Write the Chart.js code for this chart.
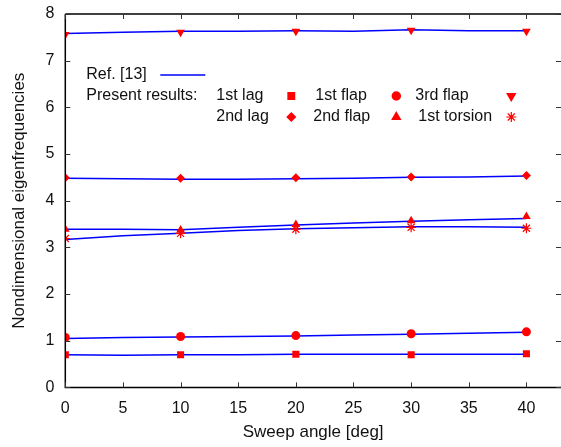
<!DOCTYPE html>
<html lang="en">
<head>
    <meta charset="UTF-8">
    <title>Eigenfrequencies vs sweep angle</title>
    <script src="https://cdn.jsdelivr.net/npm/chart.js"></script>
    <style>
        html, body { margin: 0; padding: 0; background: #fff; }
        #wrap { width: 561px; height: 447px; }
    </style>
</head>
<body>
    <div id="wrap"><canvas id="freqChart" width="561" height="447"></canvas></div>

    <script>
        // sweep angles of present results
        const sweep = [0, 10, 20, 30, 40];
        const lag1 = [0.70, 0.70, 0.71, 0.70, 0.72];
        const flap1 = [1.07, 1.09, 1.11, 1.15, 1.19];
        const flap2 = [3.39, 3.37, 3.49, 3.57, 3.66];
        const torsion1 = [3.19, 3.30, 3.39, 3.43, 3.41];
        const lag2 = [4.49, 4.48, 4.49, 4.51, 4.54];
        const flap3 = [7.56, 7.61, 7.63, 7.65, 7.63];

        // Ref. [13] curves
        const refSweep = [0, 5, 10, 15, 20, 25, 30, 35, 40];
        const refLag1 = [0.70, 0.69, 0.70, 0.70, 0.71, 0.71, 0.71, 0.71, 0.71];
        const refFlap1 = [1.05, 1.07, 1.08, 1.09, 1.10, 1.12, 1.14, 1.16, 1.18];
        const refFlap2 = [3.39, 3.39, 3.38, 3.43, 3.48, 3.52, 3.56, 3.59, 3.62];
        const refTorsion1 = [3.17, 3.25, 3.30, 3.36, 3.40, 3.42, 3.44, 3.44, 3.43];
        const refLag2 = [4.48, 4.47, 4.46, 4.46, 4.47, 4.48, 4.50, 4.51, 4.53];
        const refFlap3 = [7.58, 7.61, 7.63, 7.63, 7.64, 7.63, 7.66, 7.64, 7.64];

        const xTicks = [0, 5, 10, 15, 20, 25, 30, 35, 40];
        const yTicks = [0, 1, 2, 3, 4, 5, 6, 7, 8];

        const RED = '#ff0000';
        const BLUE = '#0000ff';
        const FONT = "'Liberation Sans', Arial, sans-serif";
        const FSIZE = 16;

        const pts = (xs, ys) => xs.map((x, i) => ({ x: x, y: ys[i] }));

        function refSet(ys) {
            return {
                label: 'Ref. [13]',
                data: pts(refSweep, ys),
                showLine: true,
                borderColor: BLUE,
                borderWidth: 1.5,
                pointRadius: 0,
                tension: 0,
                order: 2
            };
        }

        function markSet(label, ys, style, radius, rotation) {
            return {
                label: label,
                data: pts(sweep, ys),
                showLine: false,
                pointStyle: style,
                pointRadius: radius,
                pointRotation: rotation || 0,
                pointBackgroundColor: RED,
                pointBorderColor: RED,
                pointBorderWidth: style === 'star' ? 1.2 : 0,
                order: 1
            };
        }

        const markers = [
            { label: '1st lag', style: 'rect', r: 4.5, rot: 0 },
            { label: '1st flap', style: 'circle', r: 4, rot: 0 },
            { label: '3rd flap', style: 'triangle', r: 4.5, rot: 180 },
            { label: '2nd lag', style: 'rectRot', r: 4, rot: 0 },
            { label: '2nd flap', style: 'triangle', r: 4.5, rot: 0 },
            { label: '1st torsion', style: 'star', r: 5, rot: 0 }
        ];

        // frame with inward ticks on all sides, gnuplot style
        const framePlugin = {
            id: 'frame',
            afterDatasetsDraw(chart) {
                const { ctx, chartArea: a, scales } = chart;
                ctx.save();
                ctx.strokeStyle = '#000';
                ctx.lineWidth = 1.5;
                ctx.beginPath();
                ctx.moveTo(a.left, a.top);
                ctx.lineTo(a.right, a.top);
                ctx.moveTo(a.left, a.top);
                ctx.lineTo(a.left, a.bottom);
                ctx.lineTo(a.right, a.bottom);
                ctx.stroke();
                ctx.lineWidth = 1;
                ctx.strokeStyle = '#333';
                ctx.beginPath();
                xTicks.forEach(v => {
                    const px = Math.round(scales.x.getPixelForValue(v)) + 0.5;
                    ctx.moveTo(px, a.bottom); ctx.lineTo(px, a.bottom - 5);
                    ctx.moveTo(px, a.top); ctx.lineTo(px, a.top + 5);
                });
                yTicks.forEach(v => {
                    const py = Math.round(scales.y.getPixelForValue(v)) + 0.5;
                    ctx.moveTo(a.left, py); ctx.lineTo(a.left + 5, py);
                    ctx.moveTo(a.right, py); ctx.lineTo(a.right - 5, py);
                });
                ctx.stroke();
                ctx.restore();
            }
        };

        // key drawn inside the plot
        const keyPlugin = {
            id: 'key',
            afterDraw(chart) {
                const { ctx, chartArea: a } = chart;
                const x0 = a.left + 21, y0 = a.top + 61;
                ctx.save();
                ctx.font = FSIZE + 'px ' + FONT;
                ctx.fillStyle = '#111';
                ctx.textBaseline = 'middle';
                ctx.fillText('Ref. [13]', x0, y0);
                ctx.strokeStyle = BLUE;
                ctx.lineWidth = 1.5;
                ctx.beginPath();
                ctx.moveTo(x0 + 74, y0); ctx.lineTo(x0 + 119, y0);
                ctx.stroke();
                ctx.fillText('Present results:', x0, y0 + 21);
                const textX = [x0 + 130, x0 + 229, x0 + 329];
                const symX = [x0 + 205, x0 + 310, x0 + 425];
                markers.forEach((m, i) => {
                    const col = i % 3, row = Math.floor(i / 3);
                    const y = y0 + 21 + row * 21;
                    const tx = textX[col] + (row === 1 ? [0, -2, 3][col] : 0);
                    ctx.fillStyle = '#111';
                    ctx.fillText(m.label, tx, y);
                    ctx.fillStyle = RED;
                    ctx.strokeStyle = RED;
                    ctx.lineWidth = m.style === 'star' ? 1.2 : 0;
                    Chart.helpers.drawPoint(ctx, {
                        pointStyle: m.style, radius: m.r, rotation: m.rot, borderWidth: ctx.lineWidth
                    }, symX[col], y);
                });
                ctx.restore();
            }
        };

        const ctx = document.getElementById('freqChart').getContext('2d');
        new Chart(ctx, {
            type: 'scatter',
            data: {
                datasets: [
                    refSet(refLag1), refSet(refFlap1), refSet(refFlap2),
                    refSet(refTorsion1), refSet(refLag2), refSet(refFlap3),
                    markSet('1st lag', lag1, 'rect', 5),
                    markSet('1st flap', flap1, 'circle', 4.5),
                    markSet('3rd flap', flap3, 'triangle', 5, 180),
                    markSet('2nd lag', lag2, 'rectRot', 4.5),
                    markSet('2nd flap', flap2, 'triangle', 5),
                    markSet('1st torsion', torsion1, 'star', 5)
                ]
            },
            options: {
                responsive: false,
                animation: false,
                layout: { autoPadding: false, padding: { top: 14, right: 0, bottom: 4, left: 9 } },
                plugins: {
                    legend: { display: false },
                    tooltip: { enabled: false }
                },
                scales: {
                    x: {
                        min: 0, max: 43,
                        afterBuildTicks: s => { s.ticks = xTicks.map(v => ({ value: v })); },
                        afterFit: s => { s.paddingLeft = 0; s.paddingRight = 0; },
                        grid: { display: false },
                        border: { display: false },
                        ticks: { color: '#111', font: { family: FONT, size: FSIZE }, padding: 4, maxRotation: 0 },
                        title: { display: true, text: 'Sweep angle [deg]', color: '#111', font: { family: FONT, size: 17 }, padding: { top: 0, bottom: 0 } }
                    },
                    y: {
                        min: 0, max: 8,
                        afterBuildTicks: s => { s.ticks = yTicks.map(v => ({ value: v })); },
                        afterFit: s => { s.paddingTop = 0; s.paddingBottom = 0; },
                        grid: { display: false },
                        border: { display: false },
                        ticks: { color: '#111', font: { family: FONT, size: FSIZE }, padding: 3 },
                        title: { display: true, text: 'Nondimensional eigenfrequencies', color: '#111', font: { family: FONT, size: 17 }, padding: { top: 0, bottom: 13 } }
                    }
                }
            },
            plugins: [framePlugin, keyPlugin]
        });
    </script>
</body>
</html>
